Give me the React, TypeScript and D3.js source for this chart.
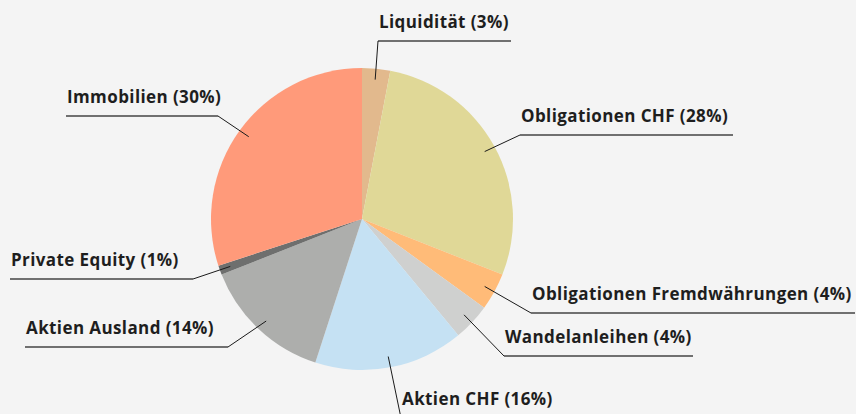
import React, { useEffect, useRef } from "react";
import * as d3 from "d3";

// asset allocation
const categories = [
  "Liquidität",
  "Obligationen CHF",
  "Obligationen Fremdwährungen",
  "Wandelanleihen",
  "Aktien CHF",
  "Aktien Ausland",
  "Private Equity",
  "Immobilien",
];
const shares = [3, 28, 4, 4, 16, 14, 1, 30];
const colors = ["#e2b98d", "#e0d897", "#ffbb78", "#cfd0cf", "#c5e1f3", "#adaeac", "#6e6f6e", "#ff9a7a"];

// label underline placement: [x1, x2, y], connector attaches at x1 (right side) or x2 (left side)
const labelLayout: [number, number, number, "l" | "r"][] = [
  [378, 511, 41, "r"],
  [520, 733, 135, "r"],
  [531, 855, 313, "r"],
  [504, 693, 356, "r"],
  [401, 600, 418, "r"],
  [25, 228, 347, "l"],
  [10, 193, 279, "l"],
  [66, 218, 116, "l"],
];

export default function App() {
  const ref = useRef<SVGSVGElement>(null);

  useEffect(() => {
    document.body.style.margin = "0";
    const width = 856;
    const height = 414;
    const cx = 362;
    const cy = 219;
    const radius = 151;

    const svg = d3.select(ref.current).attr("width", width).attr("height", height);
    svg.selectAll("*").remove();
    svg.append("rect").attr("width", width).attr("height", height).attr("fill", "#f4f4f4");

    const data = categories.map((c, i) => ({ name: c, value: shares[i], color: colors[i] }));
    const pie = d3.pie<any>().value(d => d.value).sort(null);
    const arcs = pie(data);
    const arc = d3.arc<any>().innerRadius(0).outerRadius(radius);
    const pointArc = d3.arc<any>().innerRadius(140).outerRadius(140);

    const g = svg.append("g").attr("transform", `translate(${cx},${cy})`);
    g.selectAll("path").data(arcs).join("path")
      .attr("d", arc)
      .attr("fill", d => d.data.color);

    const labels = svg.append("g");
    arcs.forEach((a, i) => {
      const [x1, x2, y, side] = labelLayout[i];
      const [px, py] = pointArc.centroid(a);
      const ax = side === "r" ? x1 : x2;
      labels.append("line")
        .attr("x1", x1).attr("x2", x2).attr("y1", y).attr("y2", y)
        .attr("stroke", "#707070").attr("stroke-width", 2);
      labels.append("line")
        .attr("x1", ax).attr("y1", y).attr("x2", cx + px).attr("y2", cy + py)
        .attr("stroke", "#1a1a1a").attr("stroke-width", 1);
      labels.append("text")
        .attr("x", x1 + 1).attr("y", y - 13)
        .style("font-family", "'Open Sans', sans-serif")
        .style("font-size", "17px")
        .style("font-weight", "bold")
        .style("letter-spacing", "0.4px")
        .attr("fill", "#1e1e1e")
        .text(`${a.data.name} (${a.data.value}%)`);
    });
  }, []);

  return <svg ref={ref} style={{ display: "block" }}></svg>;
}
